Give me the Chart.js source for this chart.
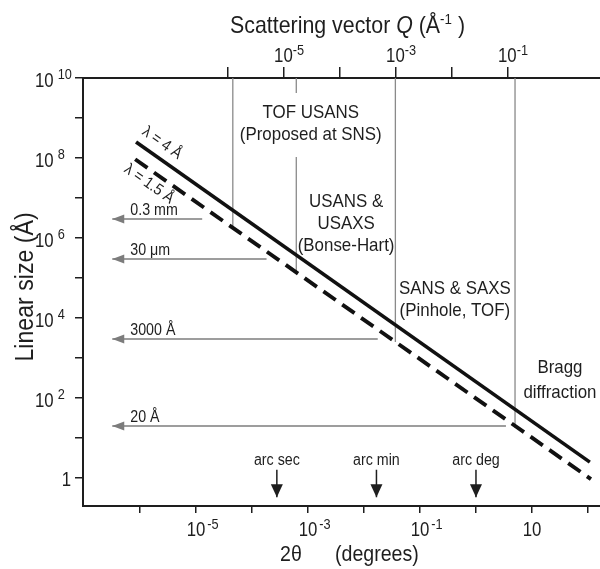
<!DOCTYPE html>
<html>
<head>
<meta charset="utf-8">
<title>Linear size vs scattering angle</title>
<script src="https://cdn.jsdelivr.net/npm/chart.js"></script>
<style>
    html, body { margin: 0; padding: 0; background: #fff; overflow: hidden; }
    canvas { display: block; }
</style>
</head>
<body>
<canvas id="myChart" width="600" height="569"></canvas>
<script>
// 2θ (degrees) and linear size (Å) at the ends of each wavelength line
let angle4 = [8.5e-7, 108];
let size4 = [2.5e8, 2.5];
let angle15 = [8.2e-7, 113];
let size15 = [9.3e7, 0.94];
let wavelengthLabels = ['λ = 4 Å', 'λ = 1.5 Å'];
let wavelengthLabelAngle = [2.47e-6, 1.45e-6];
let wavelengthLabelSize = [2.37e8, 2.24e7];

// Q (1/Å) per degree of 2θ at 4 Å, for the top axis
const qPerDegree = 0.0275;

// axis ranges and ticks
const angleMin = 9.6e-8, angleMax = 164;
const sizeMin = 0.2, sizeMax = 1e10;
let angleTicks = [1e-6, 1e-5, 1e-4, 1e-3, 1e-2, 1e-1, 1, 10, 100];
let qTicks = [1e-6, 1e-5, 1e-4, 1e-3, 1e-2, 1e-1];
let sizeTicks = [1, 10, 1e2, 1e3, 1e4, 1e5, 1e6, 1e7, 1e8, 1e9, 1e10];
let angleLabelExp = [-5, -3, -1, 1];
let qLabelExp = [-5, -3, -1];
let sizeLabelExp = [0, 2, 4, 6, 8, 10];

// technique boundaries (Q) and the size where each one stops
let boundaryQ = [1.25e-6, 1.7e-5, 1e-3, 0.137];
let boundaryBottom = [1.9e6, 1.3e5, 2500, 18];
let boundaryGap = [4.2e9, 1.06e8];   // second boundary breaks around the TOF USANS text

// size arrows
let arrowLabels = ['0.3 mm', '30 μm', '3000 Å', '20 Å'];
let arrowSizes = [3e6, 3e5, 3000, 20];
let arrowEnds = [1.29e-5, 1.82e-4, 1.76e-2, 3.43];
const arrowTip = 3.2e-7;

// angle markers
let markerLabels = ['arc sec', 'arc min', 'arc deg'];
let markerAngles = [2.78e-4, 0.0167, 1];
const markerTop = 1.6, markerBottom = 0.33, markerText = 2.7;

// technique names
let regionText = [
    ['TOF USANS', '(Proposed at SNS)'],
    ['USANS &', 'USAXS', '(Bonse-Hart)'],
    ['SANS & SAXS', '(Pinhole, TOF)'],
    ['Bragg', 'diffraction']
];
let regionAngle = [1.12e-3, 4.79e-3, 0.42, 31.6];
let regionSize = [1.33e9, 7.9e6, 5.3e4, 562];
let regionLineHeight = [22, 22, 22, 25];

const fontFamily = "'Liberation Sans', Arial, sans-serif";
const ink = '#1e1e1e';
const gray = '#7c7c7c';

function drawText(ctx, str, x, y, size, opts)
{
    opts = opts || {};
    ctx.save();
    ctx.translate(x, y);
    if (opts.rotate) ctx.rotate(opts.rotate);
    ctx.scale(opts.squeeze || 0.89, 1);
    ctx.font = (opts.style || '') + ' ' + size + 'px ' + fontFamily;
    ctx.fillStyle = opts.color || ink;
    ctx.textAlign = opts.align || 'left';
    ctx.textBaseline = opts.baseline || 'alphabetic';
    ctx.fillText(str, 0, 0);
    ctx.restore();
}

function textWidth(ctx, str, size, squeeze, style)
{
    ctx.save();
    ctx.font = (style || '') + ' ' + size + 'px ' + fontFamily;
    const w = ctx.measureText(str).width * (squeeze || 0.89);
    ctx.restore();
    return w;
}

// "10" centred on a tick with its exponent after it
function powerLabel(ctx, exp, cx, baseline, gap)
{
    const w = textWidth(ctx, '10', 21, 0.8);
    drawText(ctx, '10', cx - w / 2, baseline, 21, { squeeze: 0.8 });
    drawText(ctx, String(exp), cx + w / 2 + gap, baseline - 7, 15, { squeeze: 0.85 });
}

function arrowHead(ctx, tipX, tipY, dirX, dirY, length, half, color)
{
    ctx.save();
    ctx.fillStyle = color;
    ctx.beginPath();
    ctx.moveTo(tipX, tipY);
    ctx.lineTo(tipX - dirX * length - dirY * half, tipY - dirY * length + dirX * half);
    ctx.lineTo(tipX - dirX * length + dirY * half, tipY - dirY * length - dirX * half);
    ctx.closePath();
    ctx.fill();
    ctx.restore();
}

const annotations =
{
    id: 'annotations',
    afterDatasetsDraw(chart)
    {
        const ctx = chart.ctx;
        const x = chart.scales.x, x2 = chart.scales.x2, y = chart.scales.y;

        // arrowheads on the arrow datasets
        chart.data.datasets.forEach((ds, i) =>
        {
            if (!ds.arrowHead) return;
            const pts = chart.getDatasetMeta(i).data;
            if (ds.arrowHead === 'left')
                arrowHead(ctx, pts[0].x, pts[0].y, -1, 0, 12, 4.5, ds.borderColor);
            else
                arrowHead(ctx, pts[1].x, pts[1].y, 0, 1, 13, 6, ds.borderColor);
        });

        // wavelength labels, turned along their lines
        let lines = [[angle4, size4], [angle15, size15]];
        lines.forEach((l, i) =>
        {
            const ax = x.getPixelForValue(l[0][0]), ay = y.getPixelForValue(l[1][0]);
            const bx = x.getPixelForValue(l[0][1]), by = y.getPixelForValue(l[1][1]);
            const rot = Math.atan2(by - ay, bx - ax);
            drawText(ctx, wavelengthLabels[i], x.getPixelForValue(wavelengthLabelAngle[i]),
                y.getPixelForValue(wavelengthLabelSize[i]), 16,
                { rotate: rot, align: 'center', baseline: 'middle' });
        });

        // technique names
        regionText.forEach((rows, i) =>
        {
            const cx = x.getPixelForValue(regionAngle[i]);
            const cy = y.getPixelForValue(regionSize[i]);
            rows.forEach((row, j) =>
            {
                drawText(ctx, row, cx, cy + j * regionLineHeight[i], 19, { align: 'center', baseline: 'middle' });
            });
        });

        // arrow labels
        arrowLabels.forEach((label, i) =>
        {
            drawText(ctx, label, x.getPixelForValue(arrowTip) + 18, y.getPixelForValue(arrowSizes[i]) - 4, 16);
        });
        markerLabels.forEach((label, i) =>
        {
            drawText(ctx, label, x.getPixelForValue(markerAngles[i]), y.getPixelForValue(markerText), 16,
                { align: 'center', baseline: 'middle' });
        });

        // tick labels
        sizeLabelExp.forEach(e =>
        {
            const py = y.getPixelForValue(Math.pow(10, e));
            if (e === 0)
            {
                drawText(ctx, '1', 71, py + 8, 21, { align: 'right', squeeze: 0.8 });
                return;
            }
            const w = textWidth(ctx, '10', 21, 0.8);
            drawText(ctx, '10', 35, py + 8.5, 21, { squeeze: 0.8 });
            drawText(ctx, String(e), 35 + w + 4, py + 0.5, 15, { squeeze: 0.85 });
        });
        angleLabelExp.forEach(e =>
        {
            const px = x.getPixelForValue(Math.pow(10, e));
            if (e === 1)
                drawText(ctx, '10', px, 536, 21, { align: 'center', squeeze: 0.8 });
            else
                powerLabel(ctx, e, px, 536, 2);
        });
        qLabelExp.forEach(e =>
        {
            powerLabel(ctx, e, x2.getPixelForValue(Math.pow(10, e)), 62, 0);
        });

        // axis titles
        let tx = 230;
        const runs =
        [
            { t: 'Scattering vector ', size: 24 },
            { t: 'Q', size: 24, style: 'italic' },
            { t: ' (Å', size: 24 },
            { t: '-1', size: 15, rise: 9 },
            { t: ' )', size: 24 }
        ];
        runs.forEach(r =>
        {
            drawText(ctx, r.t, tx, 33 - (r.rise || 0), r.size, { style: r.style });
            tx += textWidth(ctx, r.t, r.size, 0.89, r.style);
        });
        drawText(ctx, 'Linear size (Å)', 33, 287, 26, { rotate: -Math.PI / 2, align: 'center' });
        drawText(ctx, '2θ', 280, 561, 22);
        drawText(ctx, '(degrees)', 335, 561, 22);
    }
};

let datasets =
[
    {
        data: angle4.map((a, i) => ({ x: a, y: size4[i] })),
        borderColor: '#111', borderWidth: 3.6, borderCapStyle: 'butt'
    },
    {
        data: angle15.map((a, i) => ({ x: a, y: size15[i] })),
        borderColor: '#111', borderWidth: 3.9, borderDash: [15, 8], borderCapStyle: 'butt'
    }
];

boundaryQ.forEach((q, i) =>
{
    let pts = [{ x: q, y: sizeMax }];
    if (i === 1)
        pts.push({ x: q, y: boundaryGap[0] }, { x: q, y: null }, { x: q, y: boundaryGap[1] });
    pts.push({ x: q, y: boundaryBottom[i] });
    datasets.push({ data: pts, xAxisID: 'x2', borderColor: '#8a8a8a', borderWidth: 1.3 });
});

arrowSizes.forEach((s, i) =>
{
    datasets.push({
        data: [{ x: arrowTip, y: s }, { x: arrowEnds[i], y: s }],
        borderColor: gray, borderWidth: 1.6, arrowHead: 'left'
    });
});

markerAngles.forEach(a =>
{
    datasets.push({
        data: [{ x: a, y: markerTop }, { x: a, y: markerBottom }],
        borderColor: ink, borderWidth: 1.5, arrowHead: 'down'
    });
});

datasets.forEach(ds =>
{
    ds.showLine = true;
    ds.pointRadius = 0;
    ds.spanGaps = false;
    if (!ds.xAxisID) ds.xAxisID = 'x';
    ds.yAxisID = 'y';
});

function axisStyle(tickLength)
{
    return {
        ticks: { display: false },
        grid: { drawOnChartArea: false, drawTicks: true, tickLength: tickLength, color: ink, lineWidth: 1.5 },
        border: { display: true, color: ink, width: 2 }
    };
}

const config =
{
    type: 'scatter',
    data: { datasets: datasets },
    options:
    {
        responsive: false,
        animation: false,
        devicePixelRatio: 1,
        layout: { padding: { left: 75, top: 67, right: 0, bottom: 56 } },
        plugins: { legend: { display: false }, tooltip: { enabled: false } },
        scales:
        {
            x: Object.assign({
                type: 'logarithmic', position: 'bottom', bounds: 'data',
                min: angleMin, max: angleMax,
                afterBuildTicks: s => { s.ticks = angleTicks.map(v => ({ value: v })); }
            }, axisStyle(7)),
            x2: Object.assign({
                type: 'logarithmic', position: 'top', bounds: 'data',
                min: angleMin * qPerDegree, max: angleMax * qPerDegree,
                afterBuildTicks: s => { s.ticks = qTicks.map(v => ({ value: v })); }
            }, axisStyle(11)),
            y: Object.assign({
                type: 'logarithmic', position: 'left', bounds: 'data',
                min: sizeMin, max: sizeMax,
                afterBuildTicks: s => { s.ticks = sizeTicks.map(v => ({ value: v })); }
            }, axisStyle(8))
        }
    },
    plugins: [annotations]
};

new Chart(document.getElementById('myChart'), config);
</script>
</body>
</html>
